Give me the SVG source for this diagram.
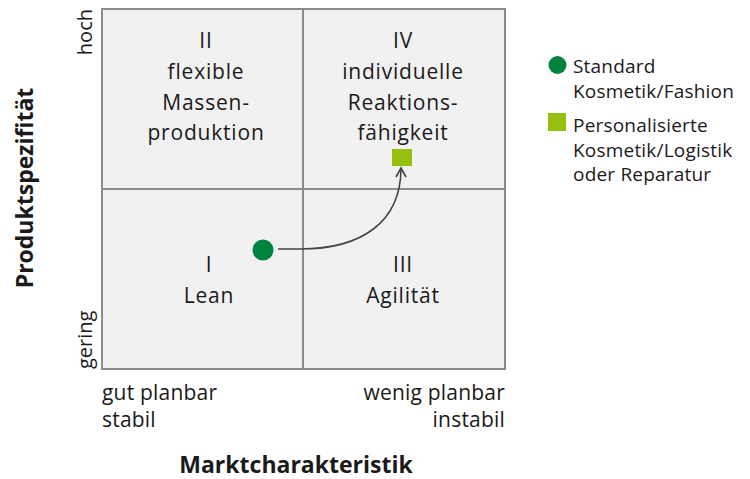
<svg xmlns="http://www.w3.org/2000/svg" width="750" height="479" viewBox="0 0 750 479">
<defs>
<style>
text{font-family:"Open Sans","Noto Sans","Liberation Sans",sans-serif;fill:#1a1a1a;}
.q{font-size:21px;letter-spacing:0.8px;text-anchor:middle;}
.s{font-size:19px;letter-spacing:0.2px;}
.x{font-size:21px;letter-spacing:0.2px;}
.a{font-size:20px;}
.b{font-size:23px;font-weight:bold;}
.cell{fill:#f1f1f1;stroke:#8c8c8c;stroke-width:2;}
</style>
<marker id="ah" markerWidth="12" markerHeight="12" refX="10" refY="6" orient="auto" markerUnits="userSpaceOnUse">
<path d="M1,1 L10,6 L1,11" fill="none" stroke="#444" stroke-width="1.6"/>
</marker>
</defs>
<rect width="750" height="479" fill="#fff"/>
<g id="quadrant-II"><rect class="cell" x="102" y="9" width="201" height="180"/>
<text class="q" x="206" y="48">II</text><text class="q" x="206" y="79">flexible</text><text class="q" x="206" y="110">Massen-</text><text class="q" x="206" y="140">produktion</text></g>
<g id="quadrant-IV"><rect class="cell" x="303" y="9" width="202" height="180"/>
<text class="q" x="403" y="48">IV</text><text class="q" x="403" y="79">individuelle</text><text class="q" x="403" y="110">Reaktions-</text><text class="q" x="403" y="140">fähigkeit</text></g>
<g id="quadrant-I"><rect class="cell" x="102" y="189" width="201" height="180"/>
<text class="q" x="209" y="272">I</text><text class="q" x="209" y="303">Lean</text></g>
<g id="quadrant-III"><rect class="cell" x="303" y="189" width="202" height="180"/>
<text class="q" x="403" y="272">III</text><text class="q" x="403" y="303">Agilität</text></g>
<g id="connectors">
<path d="M278,249 L300,249 C362,249 401,222 401,168" fill="none" stroke="#444" stroke-width="1.6" marker-end="url(#ah)"/>
</g>
<g id="point-standard"><circle cx="263" cy="250" r="10.5" fill="#00843d"/></g>
<g id="point-personalisiert"><rect x="392" y="149" width="20" height="17" fill="#97bf0d"/></g>
<g id="legend">
<circle cx="557.5" cy="65" r="9" fill="#00843d"/>
<text class="s" x="573" y="73">Standard</text><text class="s" x="573" y="98">Kosmetik/Fashion</text>
<rect x="548" y="113" width="18" height="18" fill="#97bf0d"/>
<text class="s" x="573" y="132">Personalisierte</text><text class="s" x="573" y="157">Kosmetik/Logistik</text><text class="s" x="573" y="181">oder Reparatur</text>
</g>
<g id="axis-y">
<text class="a" transform="translate(92,9) rotate(-90)" text-anchor="end">hoch</text>
<text class="a" transform="translate(92,369) rotate(-90)">gering</text>
<text class="b" transform="translate(33,188) rotate(-90)" text-anchor="middle">Produktspezifität</text>
</g>
<g id="axis-x">
<text class="x" x="102" y="400">gut planbar</text><text class="x" x="102" y="427">stabil</text>
<text class="x" x="505" y="400" text-anchor="end">wenig planbar</text><text class="x" x="505" y="427" text-anchor="end">instabil</text>
<text class="b" x="296" y="473" text-anchor="middle">Marktcharakteristik</text>
</g>
</svg>
